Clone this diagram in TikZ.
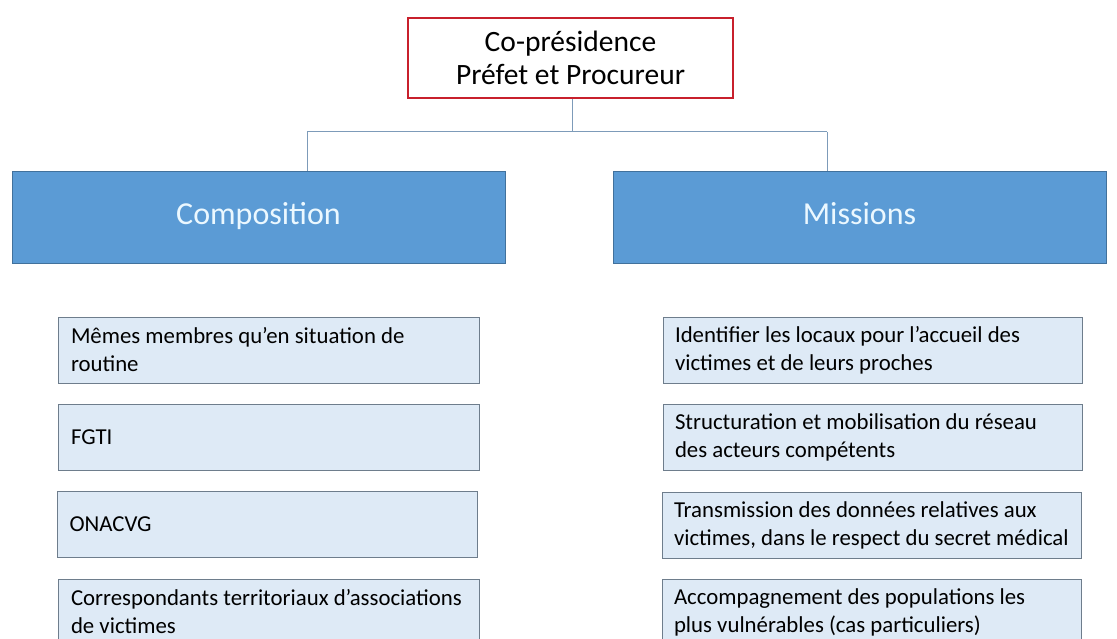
\documentclass[tikz,border=0pt]{standalone}
\usepackage{fontspec}
\setmainfont{Carlito}
\definecolor{topred}{RGB}{200,32,44}
\definecolor{hdrblue}{RGB}{91,155,213}
\definecolor{hdredge}{RGB}{65,113,156}
\definecolor{hdrtext}{RGB}{235,248,255}
\definecolor{itemfill}{RGB}{222,234,246}
\definecolor{itemedge}{RGB}{110,125,140}
\definecolor{linkcol}{RGB}{125,155,185}
\tikzset{
  topbox/.style={draw=topred, line width=2.5pt, fill=white, minimum width=325pt, minimum height=80pt, align=flush center, font={\fontsize{29.5}{33}\selectfont}, inner sep=0pt},
  hdrbox/.style={draw=hdredge, line width=0.8pt, fill=hdrblue, minimum width=493pt, minimum height=92pt, text=hdrtext, font={\fontsize{32}{36}\selectfont}, inner sep=0pt, text height=22pt, text depth=6pt},
  itembox/.style={draw=itemedge, line width=1pt, fill=itemfill, minimum width=421pt, minimum height=66pt, text width=395pt, align=flush left, font={\fontsize{22.8}{28}\selectfont}, inner sep=0pt},
  link/.style={draw=linkcol, line width=1pt}
}
\begin{document}
\begin{tikzpicture}[x=1pt,y=-1pt]
\useasboundingbox (0,0) rectangle (1117,639);
\clip (0,0) rectangle (1117,639);
\fill[white] (0,0) rectangle (1117,639);
\node[topbox] (top) at (570.5,58) {Co-présidence\\Préfet et Procureur};
\node[hdrbox] (comp) at (258.5,217) {Composition};
\node[hdrbox] (miss) at (859.5,217) {Missions};
\coordinate (j) at (572,132);
\coordinate (jl) at (307,132);
\coordinate (jr) at (827,132);
\draw[link] (top.south -| j) -- (j);
\draw[link] (jl) -- (jr);
\draw[link] (jl) -- (jl |- comp.north);
\draw[link] (jr) -- (jr |- miss.north);
\node[itembox] (c1) at (268.5,350) {\mbox{Mêmes membres qu’en situation de}\\routine};
\node[itembox] (c2) at (268.5,437) {FGTI};
\node[itembox, minimum width=420pt] (c3) at (267,524.5) {ONACVG};
\node[itembox] (c4) at (268.5,612) {\mbox{Correspondants territoriaux d’associations}\\de victimes};
\node[itembox, minimum width=419pt] (m1) at (872.5,350) {\mbox{Identifier les locaux pour l’accueil des}\\\mbox{victimes et de leurs proches}};
\node[itembox, minimum width=419pt] (m2) at (872.5,437) {\mbox{Structuration et mobilisation du réseau}\\\mbox{des acteurs compétents}};
\node[itembox, minimum width=419pt] (m3) at (871.5,525) {\mbox{Transmission des données relatives aux}\\\mbox{victimes, dans le respect du secret médical}};
\node[itembox, minimum width=419pt] (m4) at (871.5,612) {\mbox{Accompagnement des populations les}\\\mbox{plus vulnérables (cas particuliers)}};
\end{tikzpicture}
\end{document}
